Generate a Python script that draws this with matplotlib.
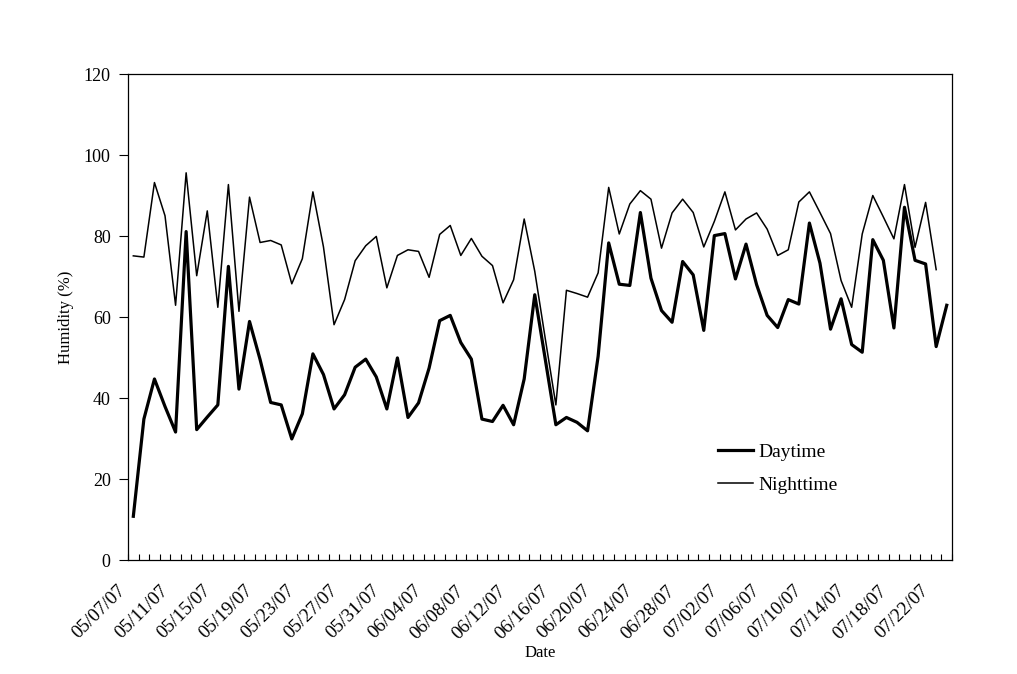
import numpy as np
import pandas as pd
import matplotlib
matplotlib.use("Agg")
import matplotlib.pyplot as plt
from matplotlib.transforms import ScaledTranslation

plt.rcParams['font.family'] = ['Liberation Serif', 'DejaVu Serif']

# Daily categories, 05/07/07 .. 07/23/07
dates = pd.date_range("2007-05-07", "2007-07-23", freq="D")
date_labels = [d.strftime("%m/%d/%y") for d in dates]

# Humidity (%)
daytime = [10.8, 34.8, 44.7, 37.9, 31.6, 81.1, 32.2, 35.3, 38.3, 72.5,
           42.2, 58.9, 49.5, 38.9, 38.3, 29.9, 36.1, 50.9, 45.8, 37.3,
           40.8, 47.6, 49.6, 45.2, 37.3, 49.9, 35.2, 38.8, 47.4, 59.1,
           60.4, 53.7, 49.6, 34.8, 34.2, 38.2, 33.4, 44.7, 65.5, 49.5,
           33.4, 35.2, 34.0, 31.9, 50.3, 78.3, 68.1, 67.8, 85.8, 69.6,
           61.6, 58.7, 73.7, 70.4, 56.7, 80.1, 80.6, 69.4, 78.0, 68.0,
           60.4, 57.4, 64.3, 63.2, 83.2, 73.3, 57.0, 64.5, 53.2, 51.3,
           79.1, 74.0, 57.3, 87.1, 74.0, 73.1, 52.7, 62.9]

nighttime = [75.1, 74.8, 93.2, 85.0, 62.9, 95.6, 70.2, 86.2, 62.4, 92.7,
             61.4, 89.6, 78.4, 78.9, 77.8, 68.2, 74.4, 90.9, 77.3, 58.1,
             64.3, 73.9, 77.6, 79.9, 67.2, 75.2, 76.6, 76.2, 69.8, 80.4,
             82.6, 75.2, 79.4, 75.0, 72.7, 63.5, 69.2, 84.2, 71.3, 54.6,
             38.3, 66.6, 65.8, 64.9, 70.9, 92.0, 80.5, 87.9, 91.2, 89.1,
             77.0, 85.7, 89.1, 85.8, 77.3, 83.6, 90.9, 81.5, 84.2, 85.7,
             81.7, 75.2, 76.6, 88.4, 90.9, 85.8, 80.6, 69.0, 62.4, 80.5,
             90.0, 84.7, 79.3, 92.7, 77.2, 88.3, 71.7]

fig = plt.figure(figsize=(10.17, 6.74), dpi=100)
ax = fig.add_axes([0.1259, 0.1691, 0.8102, 0.7211])

x_day = np.arange(len(daytime))
x_night = np.arange(len(nighttime))
ax.plot(x_day, daytime, color='black', lw=2.3, label='Daytime')
ax.plot(x_night, nighttime, color='black', lw=1.1, label='Nighttime')

n = len(dates)
ax.set_xlim(-0.5, n - 0.5)
ax.set_ylim(0, 120)
ax.set_yticks(range(0, 121, 20))

# tick marks between categories, labels every 4th day
ax.set_xticks(np.arange(n + 1) - 0.5)
ax.set_xticklabels([])
ax.set_xticks(np.arange(0, n, 4), minor=True)
ax.set_xticklabels(date_labels[::4], minor=True, rotation=45,
                   ha='right', va='top', rotation_mode='anchor', fontsize=13.8)
ax.tick_params(axis='x', which='major', direction='in', length=4.5, width=0.8)
ax.tick_params(axis='x', which='minor', length=0, pad=16)
ax.tick_params(axis='y', direction='out', length=6.5, width=0.8, pad=6, labelsize=13)
offset = ScaledTranslation(-0.16, 0, fig.dpi_scale_trans)
for lbl in ax.get_xticklabels(minor=True):
    lbl.set_transform(lbl.get_transform() + offset)

for sp in ax.spines.values():
    sp.set_linewidth(0.9)

ax.set_xlabel('Date', fontsize=12)
ax.set_ylabel('Humidity (%)', fontsize=12)
ax.xaxis.set_label_coords(0.5, -0.175)
ax.yaxis.set_label_coords(-0.066, 0.5)

ax.legend(loc='lower left', bbox_to_anchor=(0.695, 0.1), frameon=False,
          fontsize=14, handlelength=1.8, handletextpad=0.25, labelspacing=0.8)

fig.savefig('out.png', dpi=100)
